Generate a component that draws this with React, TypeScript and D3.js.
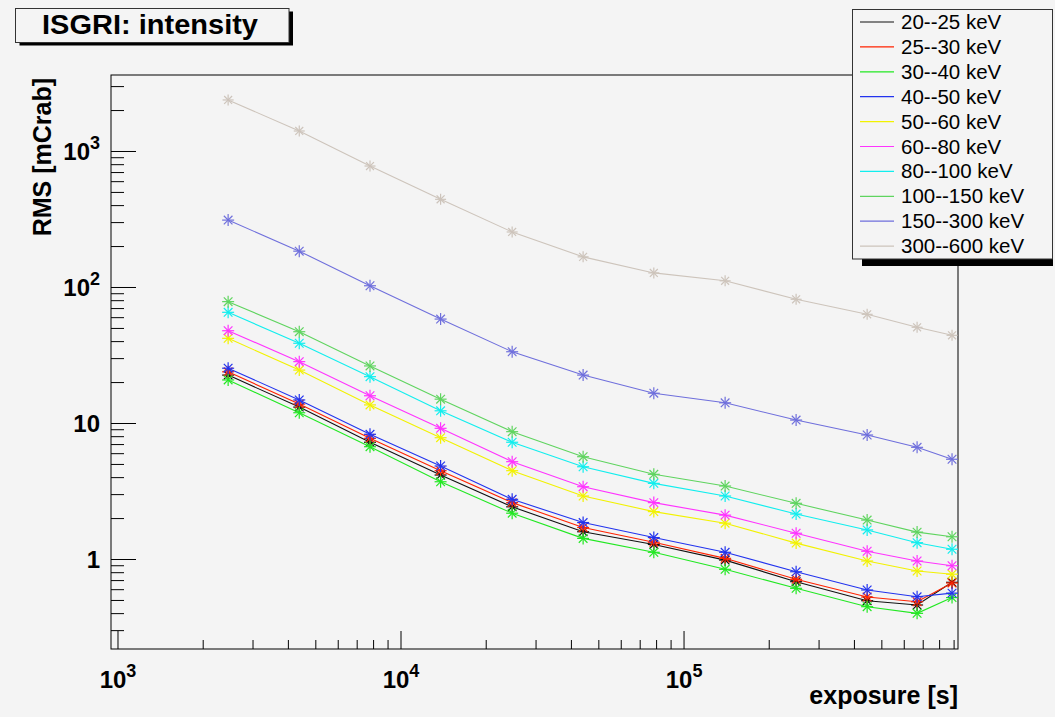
import React from "react";
import * as d3 from "d3";

const exposure = [2450, 4370, 7770, 13800, 24700, 44000, 78200, 139700, 248900, 443600, 666000, 885000];

const bandLabels = ["20--25 keV", "25--30 keV", "30--40 keV", "40--50 keV", "50--60 keV", "60--80 keV", "80--100 keV", "100--150 keV", "150--300 keV", "300--600 keV"];
const bandColors = ["#111111", "#ff2200", "#22e822", "#2233ee", "#f2f200", "#ff33ff", "#11eeee", "#5fd45f", "#6f6fdc", "#cdc4bb"];

const s20_25 = [22.7, 13.2, 7.28, 4.18, 2.44, 1.6, 1.29, 0.99, 0.687, 0.498, 0.463, 0.68];
const s25_30 = [24.0, 13.9, 7.78, 4.5, 2.62, 1.72, 1.34, 1.02, 0.715, 0.53, 0.489, 0.672];
const s30_40 = [20.9, 12.0, 6.75, 3.73, 2.19, 1.43, 1.13, 0.847, 0.614, 0.45, 0.402, 0.525];
const s40_50 = [25.5, 14.9, 8.33, 4.87, 2.77, 1.87, 1.45, 1.13, 0.813, 0.597, 0.532, 0.566];
const s50_60 = [42.3, 24.7, 13.7, 7.86, 4.5, 2.93, 2.25, 1.85, 1.32, 0.975, 0.823, 0.78];
const s60_80 = [48.1, 28.5, 16.0, 9.22, 5.24, 3.43, 2.62, 2.12, 1.56, 1.15, 0.975, 0.9];
const s80_100 = [65.7, 38.9, 22.1, 12.4, 7.28, 4.81, 3.63, 2.93, 2.16, 1.65, 1.33, 1.19];
const s100_150 = [78.7, 47.3, 26.5, 15.1, 8.71, 5.7, 4.23, 3.47, 2.59, 1.95, 1.59, 1.47];
const s150_300 = [313, 185, 103, 58.6, 33.7, 22.7, 16.7, 14.2, 10.6, 8.23, 6.68, 5.46];
const s300_600 = [2393, 1415, 782, 445, 256, 168, 128, 112, 81.9, 63.5, 51, 44.5];

const allSeries = [s20_25, s25_30, s30_40, s40_50, s50_60, s60_80, s80_100, s100_150, s150_300, s300_600];

const xTickExps = [3, 4, 5];
const yTickLabels = [
  { v: 1, base: "1", sup: "" },
  { v: 10, base: "10", sup: "" },
  { v: 100, base: "10", sup: "2" },
  { v: 1000, base: "10", sup: "3" },
];

const W = 1055;
const H = 717;
const left = 111, right = 958, top = 75, bottom = 649;
const BG = "#f4f4f4";
const FONT = "'Liberation Sans', Arial, Helvetica, sans-serif";

export default function App() {
  const x = d3.scaleLog().domain([944.7, 929000]).range([left, right]);
  const y = d3.scaleLog().domain([0.2198, 3651]).range([bottom, top]);

  const line = d3
    .line<[number, number]>()
    .x((d) => x(d[0]))
    .y((d) => y(d[1]));

  const xMinor: number[] = [];
  for (let e = 2; e <= 5; e++) {
    for (let m = 2; m <= 9; m++) {
      const v = m * Math.pow(10, e);
      if (v > 944.7 && v < 929000) xMinor.push(v);
    }
  }
  const yMinor: number[] = [];
  for (let e = -1; e <= 3; e++) {
    for (let m = 2; m <= 9; m++) {
      const v = m * Math.pow(10, e);
      if (v > 0.2198 && v < 3651) yMinor.push(v);
    }
  }

  const marker = (cx: number, cy: number, color: string, key: string, r = 6) => {
    const d = r * 0.72;
    return (
      <g key={key} stroke={color} strokeWidth={1.2}>
        <line x1={cx - r} y1={cy} x2={cx + r} y2={cy} />
        <line x1={cx} y1={cy - r} x2={cx} y2={cy + r} />
        <line x1={cx - d} y1={cy - d} x2={cx + d} y2={cy + d} />
        <line x1={cx - d} y1={cy + d} x2={cx + d} y2={cy - d} />
      </g>
    );
  };

  return (
    <svg
      width={W}
      height={H}
      style={{ position: "absolute", left: 0, top: 0, background: BG }}
      fontFamily={FONT}
    >
      <rect x={0} y={0} width={W} height={H} fill={BG} />

      <rect x={left} y={top} width={right - left} height={bottom - top} fill="none" stroke="#000" strokeWidth={1} />

      {allSeries.map((s, i) => {
        const pts: [number, number][] = exposure.map((e, j) => [e, s[j]]);
        return (
          <g key={"s" + i}>
            <path d={line(pts) || ""} fill="none" stroke={bandColors[i]} strokeWidth={1.1} />
            {pts.map((p, j) => marker(x(p[0]), y(p[1]), bandColors[i], `m${i}-${j}`, i === 9 ? 5.5 : 6))}
          </g>
        );
      })}

      <g stroke="#000" strokeWidth={1}>
        {xTickExps.map((e) => (
          <line key={"xt" + e} x1={x(Math.pow(10, e))} x2={x(Math.pow(10, e))} y1={bottom} y2={bottom - 18} />
        ))}
        {xMinor.map((v) => (
          <line key={"xm" + v} x1={x(v)} x2={x(v)} y1={bottom} y2={bottom - 9} />
        ))}
        {yTickLabels.map((t) => (
          <line key={"yt" + t.v} x1={left} x2={left + 25} y1={y(t.v)} y2={y(t.v)} />
        ))}
        {yMinor.map((v) => (
          <line key={"ym" + v} x1={left} x2={left + 13} y1={y(v)} y2={y(v)} />
        ))}
      </g>

      {xTickExps.map((e) => (
        <text
          key={"xl" + e}
          x={x(Math.pow(10, e))}
          y={688}
          textAnchor="middle"
          fontWeight="bold"
          fontSize={24}
          fill="#000"
        >
          10
          <tspan dy={-11} fontSize={18}>{String(e)}</tspan>
        </text>
      ))}

      {yTickLabels.map((t) => (
        <text
          key={"yl" + t.v}
          x={100}
          y={y(t.v) + 8.5}
          textAnchor="end"
          fontWeight="bold"
          fontSize={24}
          fill="#000"
        >
          {t.base}
          {t.sup ? <tspan dy={-11} fontSize={18}>{t.sup}</tspan> : null}
        </text>
      ))}

      <text x={958} y={704} textAnchor="end" fontWeight="bold" fontSize={25} fill="#000">
        exposure [s]
      </text>
      <text
        transform="translate(51,78) rotate(-90)"
        textAnchor="end"
        fontWeight="bold"
        fontSize={25}
        fill="#000"
      >
        RMS [mCrab]
      </text>

      <rect x={19.5} y={11.5} width={273.5} height={34} fill="#000" />
      <rect x={15.5} y={8.5} width={273.5} height={34} fill={BG} stroke="#333" strokeWidth={1} />
      <text x={150} y={34} textAnchor="middle" fontWeight="bold" fontSize={27} fill="#000" textLength={216} lengthAdjust="spacingAndGlyphs">
        ISGRI: intensity
      </text>

      <rect x={862} y={19} width={191} height={247} fill="#000" />
      <rect x={852.5} y={9.5} width={200} height={249.5} fill={BG} stroke="#333" strokeWidth={1} />
      {bandLabels.map((lab, i) => {
        const yy = 22 + i * 24.9;
        return (
          <g key={"lg" + i}>
            <line x1={860} x2={894} y1={yy} y2={yy} stroke={bandColors[i]} strokeWidth={1.2} />
            <text x={901} y={yy + 7} fontSize={20.5} fill="#000">
              {lab}
            </text>
          </g>
        );
      })}
    </svg>
  );
}
